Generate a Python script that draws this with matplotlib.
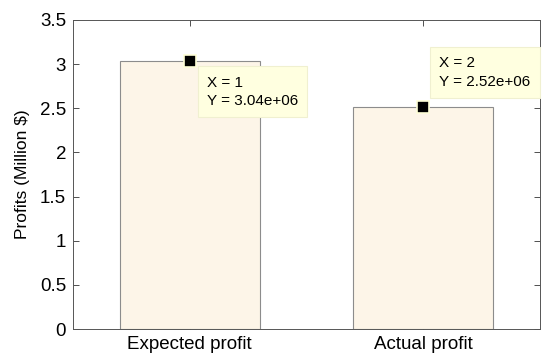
import matplotlib
matplotlib.use('Agg')
from matplotlib import pyplot as plt

plt.rcParams['font.family'] = ['Liberation Sans', 'DejaVu Sans']

# 数据
categories = ['Expected profit', 'Actual profit']
positions = [1, 2]
profits = [3.04, 2.52]          # Million $
tip_values = ['3.04e+06', '2.52e+06']
yticks = [0, 0.5, 1, 1.5, 2, 2.5, 3, 3.5]
ytick_labels = ['0', '0.5', '1', '1.5', '2', '2.5', '3', '3.5']

fig = plt.figure(figsize=(5.5, 3.61), dpi=100)
ax = fig.add_axes([73/550, 1-329/361, (540-73)/550, (329-20)/361])

ax.bar(positions, profits, width=0.6, color='#fdf5e8', edgecolor='#8c8c8c', linewidth=0.8, zorder=2)

# 数据提示点
ax.plot(positions, profits, 's', color='black', markersize=8.5,
        markeredgecolor='#ffffd8', markeredgewidth=1.2, zorder=5, clip_on=False)

# 数据提示框
offsets = [(17, -15, 'top'), (16, 18, 'bottom')]
for i in range(len(positions)):
    dx, dy, va = offsets[i]
    ax.annotate('X = {}\nY = {}'.format(positions[i], tip_values[i]),
                xy=(positions[i], profits[i]), xytext=(dx, dy), textcoords='offset pixels',
                ha='left', va=va, fontsize=11, linespacing=1.4,
                bbox=dict(boxstyle='square,pad=0.6', facecolor='#ffffe0', edgecolor='#f0f0d0', linewidth=0.8),
                zorder=6, annotation_clip=False)

ax.set_xlim(0.5, 2.5)
ax.set_ylim(0, 3.5)
ax.set_xticks(positions)
ax.set_xticklabels(categories)
ax.set_yticks(yticks)
ax.set_yticklabels(ytick_labels)
ax.tick_params(direction='in', length=4, labelsize=13.5, top=True, right=True,
               color='#333333', width=0.6, pad=5)
for s in ax.spines.values():
    s.set_color('#555555')
    s.set_linewidth(0.7)
ax.set_ylabel('Profits (Million $)', fontsize=12.5, labelpad=7)

plt.savefig('out.png', dpi=100)
